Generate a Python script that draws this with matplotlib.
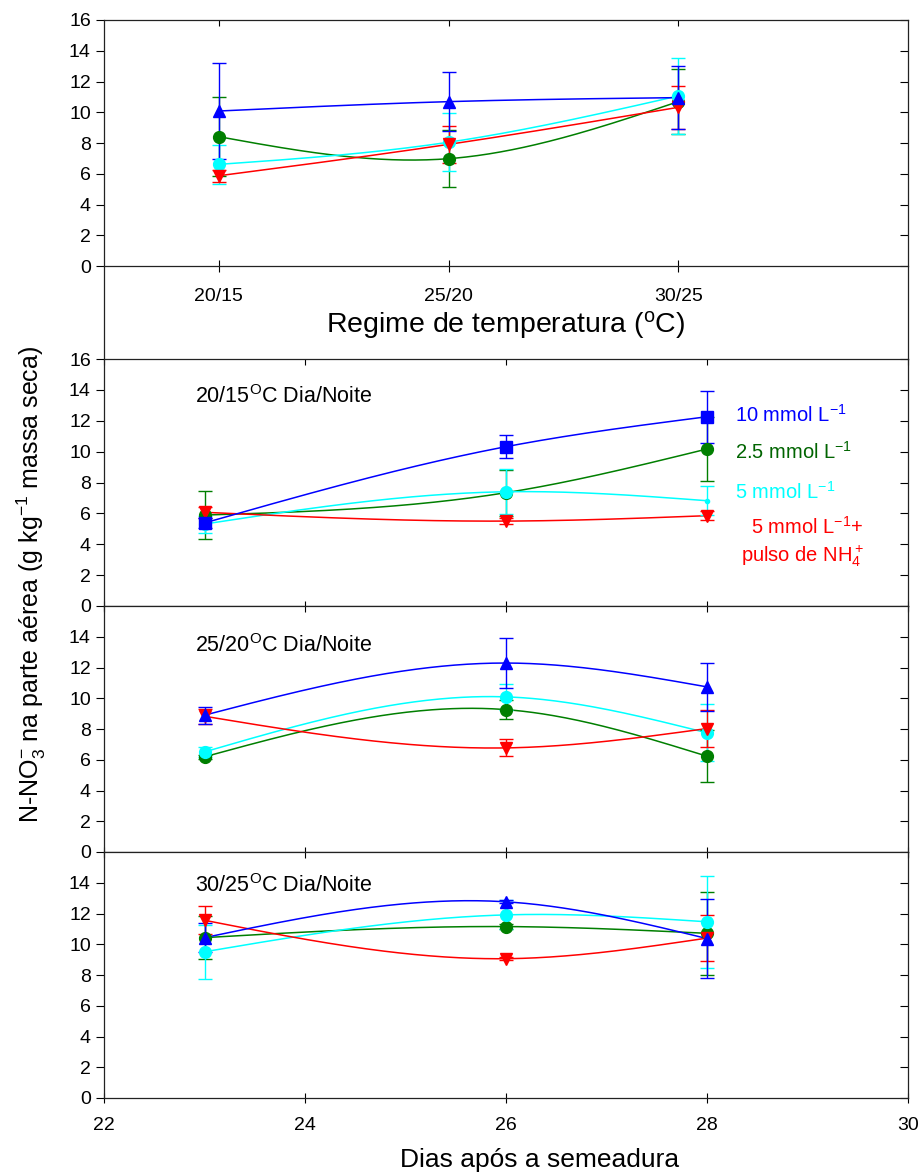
import numpy as np
import matplotlib
matplotlib.use('Agg')
import matplotlib.pyplot as plt
from matplotlib import font_manager

# ── fonts ─────────────────────────────────────────────────────────────────────
names = {f.name for f in font_manager.fontManager.ttflist}
NARROW = 'Liberation Sans Narrow' if 'Liberation Sans Narrow' in names else 'Liberation Sans'
plt.rcParams['font.family'] = ['Liberation Sans', 'DejaVu Sans']
plt.rcParams['mathtext.fontset'] = 'custom'
plt.rcParams['mathtext.rm'] = 'Liberation Sans'
plt.rcParams['mathtext.it'] = 'Liberation Sans:italic'
plt.rcParams['mathtext.bf'] = 'Liberation Sans:bold'

BLUE, GREEN, CYAN, RED = '#0000FF', '#007F00', '#00FFFF', '#FF0000'

# ── data ──────────────────────────────────────────────────────────────────────
temps = ['20/15', '25/20', '30/25']
dias = [23, 26, 28]

# top panel: by temperature regime
top_10 = [10.08, 10.69, 10.95];  top_10_err = [3.10, 1.90, 2.05]
top_25 = [8.41, 6.98, 10.69];    top_25_err = [2.55, 1.85, 2.10]
top_5 = [6.61, 8.05, 11.06];     top_5_err = [1.25, 1.90, 2.45]
top_5p = [5.87, 7.91, 10.32];    top_5p_err = [0.40, 1.20, 1.40]

# 20/15 C
p2_10 = [5.38, 10.32, 12.26];    p2_10_err = [0.35, 0.75, 1.67]
p2_25 = [5.89, 7.34, 10.17];     p2_25_err = [1.55, 1.50, 2.10]
p2_5 = [5.31, 7.40, 6.82];       p2_5_err = [0.55, 1.45, 0.95]
p2_5p = [6.07, 5.50, 5.85];      p2_5p_err = [0.35, 0.20, 0.30]

# 25/20 C
p3_10 = [8.90, 12.29, 10.74];    p3_10_err = [0.55, 1.60, 1.55]
p3_25 = [6.19, 9.26, 6.23];      p3_25_err = [0.15, 0.60, 1.70]
p3_5 = [6.51, 10.09, 7.75];      p3_5_err = [0.30, 0.85, 1.85]
p3_5p = [8.83, 6.77, 8.03];      p3_5p_err = [0.50, 0.55, 1.20]

# 30/25 C
p4_10 = [10.43, 12.76, 10.37];   p4_10_err = [0.94, 0.10, 2.55]
p4_25 = [10.43, 11.15, 10.71];   p4_25_err = [1.40, 0.15, 2.70]
p4_5 = [9.51, 11.91, 11.46];     p4_5_err = [1.75, 0.95, 3.00]
p4_5p = [11.56, 9.06, 10.40];    p4_5p_err = [0.90, 0.10, 1.50]


def spline(x, y, n=200):
    """natural cubic spline through the points (smooth line like SigmaPlot)"""
    x = np.asarray(x, float); y = np.asarray(y, float)
    k = len(x); h = np.diff(x)
    A = np.zeros((k, k)); b = np.zeros(k)
    A[0, 0] = A[-1, -1] = 1
    for i in range(1, k - 1):
        A[i, i - 1] = h[i - 1]; A[i, i] = 2 * (h[i - 1] + h[i]); A[i, i + 1] = h[i]
        b[i] = 6 * ((y[i + 1] - y[i]) / h[i] - (y[i] - y[i - 1]) / h[i - 1])
    M = np.linalg.solve(A, b)
    xs = np.linspace(x[0], x[-1], n)
    j = np.clip(np.searchsorted(x, xs) - 1, 0, k - 2)
    t0 = x[j + 1] - xs; t1 = xs - x[j]; hh = h[j]
    ys = (M[j] * t0**3 + M[j + 1] * t1**3) / (6 * hh) \
        + (y[j] / hh - M[j] * hh / 6) * t0 + (y[j + 1] / hh - M[j + 1] * hh / 6) * t1
    return xs, ys


def draw(ax, x, y, err, color, marker, ms=8.5, small_last=False):
    xs, ys = spline(x, y)
    ax.plot(xs, ys, color=color, lw=1.1, zorder=2)
    ax.errorbar(x, y, yerr=err, fmt='none', ecolor=color, elinewidth=1.0,
                capsize=5, capthick=1.0, zorder=3)
    sizes = [ms] * len(x)
    if small_last:
        sizes[-1] = 3
    for xi, yi, s in zip(x, y, sizes):
        ax.plot([xi], [yi], marker=marker, ms=s, color=color, mec=color, ls='none', zorder=4)


def style(ax):
    ax.tick_params(axis='y', which='both', left=True, right=True, labelsize=14)
    ax.tick_params(axis='y', which='both', direction='out', length=6, width=0.8)
    for t in ax.yaxis.get_major_ticks():
        t.tick2line.set_marker(matplotlib.lines.TICKLEFT)
    for t in ax.xaxis.get_major_ticks():
        t.tick2line.set_marker(matplotlib.lines.TICKDOWN)
        t.tick2line.set_markersize(4)
    for s in ax.spines.values():
        s.set_linewidth(0.9)
        s.set_color('#222222')


W, H = 922, 1175
fig = plt.figure(figsize=(W / 100, H / 100), dpi=100)
L, R = 104, 908


def axes_at(top, bottom):
    return fig.add_axes([L / W, 1 - bottom / H, (R - L) / W, (bottom - top) / H])


# ── top panel: temperature regime ────────────────────────────────────────────
ax1 = axes_at(20, 359)
xi = [1, 2, 3]
draw(ax1, xi, top_25, top_25_err, GREEN, 'o')
draw(ax1, xi, top_5, top_5_err, CYAN, 'o')
draw(ax1, xi, top_5p, top_5p_err, RED, 'v')
draw(ax1, xi, top_10, top_10_err, BLUE, '^')
ax1.set_xlim(0.5, 4.0)
ax1.set_ylim(-(359 - 266) / 15.375, 16)
ax1.set_yticks(range(0, 17, 2))
ax1.spines['bottom'].set_position(('data', 0))
ax1.set_xticks(xi)
ax1.set_xticklabels(temps, fontsize=14)
ax1.tick_params(axis='x', direction='inout', length=8, width=0.8, top=True, pad=12)
style(ax1)
ax1.text(0.5, 0.10, r'Regime de temperatura ($^{\mathrm{o}}$C)', transform=ax1.transAxes,
         ha='center', va='center', fontsize=20.5, fontfamily=NARROW)

# ── day panels ───────────────────────────────────────────────────────────────
panels = [
    (359, 606, '20/15', (p2_10, p2_10_err), (p2_25, p2_25_err), (p2_5, p2_5_err), (p2_5p, p2_5p_err), 's', 0.846),
    (606, 852, '25/20', (p3_10, p3_10_err), (p3_25, p3_25_err), (p3_5, p3_5_err), (p3_5p, p3_5p_err), '^', 0.838),
    (852, 1098, '30/25', (p4_10, p4_10_err), (p4_25, p4_25_err), (p4_5, p4_5_err), (p4_5p, p4_5p_err), '^', 0.862),
]
axes = []
for k, (top, bot, lab, s10, s25, s5, s5p, m10, ty) in enumerate(panels):
    ax = axes_at(top, bot)
    draw(ax, dias, s25[0], s25[1], GREEN, 'o')
    draw(ax, dias, s5[0], s5[1], CYAN, 'o', small_last=(k == 0))
    draw(ax, dias, s5p[0], s5p[1], RED, 'v')
    draw(ax, dias, s10[0], s10[1], BLUE, m10)
    ax.set_xlim(22, 30)
    ax.set_ylim(0, 16)
    ax.set_xticks(range(22, 31, 2))
    ax.set_yticks(range(0, 17, 2) if k == 0 else range(0, 15, 2))
    ax.tick_params(axis='x', direction='inout', length=7, width=0.8, top=True,
                   labelsize=14, pad=10)
    if k < 2:
        ax.tick_params(axis='x', labelbottom=False)
    style(ax)
    ax.text(0.113, ty, lab + r'$^{\mathrm{O}}$C Dia/Noite', transform=ax.transAxes,
            ha='left', va='center', fontsize=15.5)
    axes.append(ax)

# legend texts in the 20/15 panel
ax2 = axes[0]
leg = dict(transform=ax2.transAxes, va='baseline', fontsize=14.5)
ax2.text(0.785, 0.746, r'10 mmol L$^{-1}$', color=BLUE, ha='left', **leg)
ax2.text(0.785, 0.595, r'2.5 mmol L$^{-1}$', color='#006400', ha='left', **leg)
ax2.text(0.785, 0.433, r'5 mmol L$^{-1}$', color=CYAN, ha='left', **leg)
ax2.text(0.945, 0.291, r'5 mmol L$^{-1}$+', color=RED, ha='right', **leg)
ax2.text(0.945, 0.179, r'pulso de NH$_4^+$', color=RED, ha='right', **leg)

# axis titles
fig.text(31 / W, 1 - 584 / H, r'N-NO$_3^{-}$ na parte aérea (g kg$^{-1}$ massa seca)',
         rotation=90, ha='center', va='center', fontsize=18)
fig.text(540 / W, 1 - 1160 / H, 'Dias após a semeadura', ha='center', va='center',
         fontsize=19)

fig.savefig('out.png', dpi=100)
